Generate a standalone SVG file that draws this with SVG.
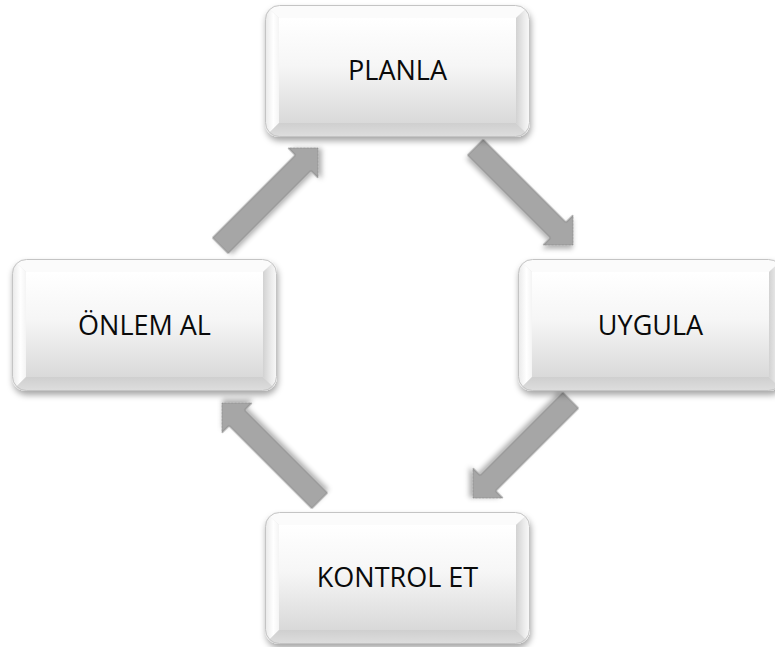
<svg xmlns="http://www.w3.org/2000/svg" xmlns:xlink="http://www.w3.org/1999/xlink" width="775" height="647" viewBox="0 0 775 647">
  <style>
    .label { font-family: "Open Sans", "Noto Sans", "Liberation Sans", sans-serif; font-size: 27px; fill: #0a0a0a; text-anchor: middle; }
    .arrow { fill: #a6a6a6; stroke: #8e8e8e; stroke-width: 1; filter: url(#arrowShadow); }
  </style>
  <defs>
    <filter id="boxShadow" x="-10%" y="-10%" width="125%" height="130%">
      <feDropShadow dx="1" dy="4" stdDeviation="3" flood-color="#000" flood-opacity="0.35"/>
    </filter>
    <filter id="arrowShadow" x="-20%" y="-20%" width="150%" height="150%">
      <feDropShadow dx="2" dy="3" stdDeviation="2.5" flood-color="#000" flood-opacity="0.3"/>
    </filter>
    <linearGradient id="face" x1="0" y1="0" x2="0" y2="1">
      <stop offset="0" stop-color="#ffffff"/>
      <stop offset="0.45" stop-color="#f6f6f6"/>
      <stop offset="1" stop-color="#d9d9d9"/>
    </linearGradient>
    <linearGradient id="rightBevel" x1="0" y1="0" x2="1" y2="0">
      <stop offset="0" stop-color="#d2d2d2"/>
      <stop offset="0.6" stop-color="#ececec"/>
      <stop offset="1" stop-color="#fafafa"/>
    </linearGradient>
    <linearGradient id="leftBevel" x1="0" y1="0" x2="1" y2="0">
      <stop offset="0" stop-color="#e8e8e8"/>
      <stop offset="0.6" stop-color="#ffffff"/>
      <stop offset="1" stop-color="#f4f4f4"/>
    </linearGradient>
    <linearGradient id="bottomBevel" x1="0" y1="0" x2="0" y2="1">
      <stop offset="0" stop-color="#cfcfcf"/>
      <stop offset="1" stop-color="#dedede"/>
    </linearGradient>
    <clipPath id="boxClip" clipPathUnits="userSpaceOnUse">
      <rect x="0" y="0" width="265" height="132" rx="14" ry="14"/>
    </clipPath>
    <g id="boxShape">
      <rect x="0" y="0" width="265" height="132" rx="14" ry="14" fill="#e4e4e4" filter="url(#boxShadow)"/>
      <g clip-path="url(#boxClip)">
        <polygon points="0,0 265,0 251,13 14,13" fill="#fbfbfb"/>
        <polygon points="0,0 14,13 14,118 0,132" fill="url(#leftBevel)"/>
        <polygon points="265,0 251,13 251,118 265,132" fill="url(#rightBevel)"/>
        <polygon points="0,132 14,118 251,118 265,132" fill="url(#bottomBevel)"/>
        <rect x="14" y="13" width="237" height="105" fill="url(#face)"/>
      </g>
      <rect x="0.5" y="0.5" width="264" height="131" rx="14" ry="14" fill="none" stroke="#c4c4c4" stroke-width="1"/>
    </g>
    <polygon id="arrowShape" points="0,-11 117,-11 117,-21 138,0 117,21 117,11 0,11"/>
  </defs>

  <g id="connectors">
    <use xlink:href="#arrowShape" class="arrow" transform="translate(475.4,147.4) rotate(45)"/>
    <use xlink:href="#arrowShape" class="arrow" transform="translate(570.6,400.4) rotate(135)"/>
    <use xlink:href="#arrowShape" class="arrow" transform="translate(319.6,500.6) rotate(-135)"/>
    <use xlink:href="#arrowShape" class="arrow" transform="translate(220.4,245.6) rotate(-45)"/>
  </g>

  <g id="node-planla" transform="translate(265,5)">
    <use xlink:href="#boxShape"/>
    <text class="label" x="132.5" y="75">PLANLA</text>
  </g>
  <g id="node-uygula" transform="translate(518,259)">
    <use xlink:href="#boxShape"/>
    <text class="label" x="132.5" y="76">UYGULA</text>
  </g>
  <g id="node-kontrol-et" transform="translate(265,512)">
    <use xlink:href="#boxShape"/>
    <text class="label" x="132.5" y="75">KONTROL ET</text>
  </g>
  <g id="node-onlem-al" transform="translate(12,259)">
    <use xlink:href="#boxShape"/>
    <text class="label" x="132.5" y="76">ÖNLEM AL</text>
  </g>
</svg>
